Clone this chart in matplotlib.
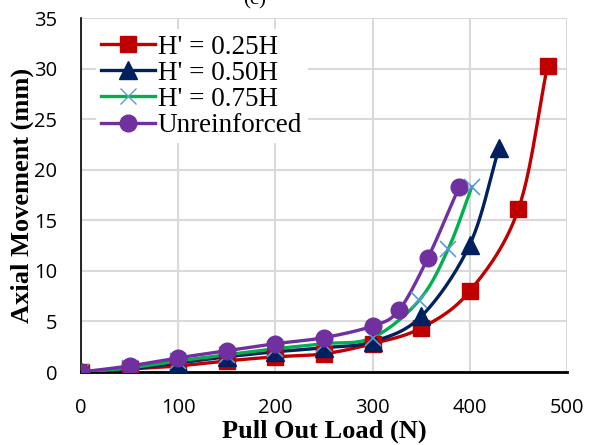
import numpy as np
import matplotlib.pyplot as plt

# data
load_25 = [0, 50, 100, 150, 200, 250, 300, 350, 400, 450, 480]
move_25 = [0, 0.3, 0.6, 1.1, 1.5, 1.8, 2.8, 4.35, 8.0, 16.1, 30.3]

load_50 = [0, 50, 100, 150, 200, 250, 300, 350, 400, 430]
move_50 = [0, 0.3, 0.9, 1.5, 2.0, 2.4, 3.0, 5.5, 12.6, 22.1]

load_75 = [0, 50, 100, 150, 200, 250, 300, 348, 378, 402]
move_75 = [0, 0.4, 1.1, 1.7, 2.3, 2.8, 3.4, 7.1, 12.2, 18.3]

load_un = [0, 50, 100, 150, 200, 250, 300, 327, 357, 389]
move_un = [0, 0.6, 1.4, 2.1, 2.8, 3.4, 4.55, 6.1, 11.3, 18.3]


def smooth(x, y, n=30):
    # catmull-rom, like excel's smoothed line
    x = np.asarray(x, float)
    y = np.asarray(y, float)
    px = np.concatenate([[2 * x[0] - x[1]], x, [2 * x[-1] - x[-2]]])
    py = np.concatenate([[2 * y[0] - y[1]], y, [2 * y[-1] - y[-2]]])
    xs, ys = [], []
    t = np.linspace(0, 1, n)
    for i in range(1, len(px) - 2):
        for p, out in ((px, xs), (py, ys)):
            p0, p1, p2, p3 = p[i - 1], p[i], p[i + 1], p[i + 2]
            out.extend(0.5 * (2 * p1 + (-p0 + p2) * t
                              + (2 * p0 - 5 * p1 + 4 * p2 - p3) * t ** 2
                              + (-p0 + 3 * p1 - 3 * p2 + p3) * t ** 3))
    return xs, ys


fig = plt.figure(figsize=(5.95, 4.45), dpi=100)
ax = fig.add_axes([81 / 595, 1 - 372 / 445, 486 / 595, 354 / 445])

series = [
    (load_25, move_25, "H' = 0.25H", '#C00000', 's', '#C00000', 12),
    (load_50, move_50, "H' = 0.50H", '#002060', '^', '#002060', 13),
    (load_75, move_75, "H' = 0.75H", '#00B050', 'x', '#5B9BD5', 12),
    (load_un, move_un, 'Unreinforced', '#7030A0', 'o', '#7030A0', 12),
]

for x, y, lab, col, mk, mcol, ms in series:
    sx, sy = smooth(x, y)
    ax.plot(sx, sy, color=col, lw=2.4, zorder=3)
    ax.plot(x, y, ls='none', marker=mk, color=mcol, ms=ms, mew=1.2 if mk == 'x' else 1,
            zorder=4)
    ax.plot([], [], color=col, lw=2.4, marker=mk, mfc=mcol, mec=mcol, ms=ms, label=lab)

ax.set_xlim(0, 500)
ax.set_ylim(0, 35)
ax.set_xticks(range(0, 501, 100))
ax.set_yticks(range(0, 36, 5))
ax.grid(True, color='#d9d9d9', lw=1.5)
ax.set_axisbelow(True)
for s in ['top', 'right']:
    ax.spines[s].set_visible(False)
ax.spines['left'].set_linewidth(1.2)
ax.spines['bottom'].set_linewidth(2)
ax.tick_params(length=0, labelsize=14.5)
ax.tick_params(axis='x', pad=19)
ax.tick_params(axis='y', pad=17)
for t in ax.get_xticklabels() + ax.get_yticklabels():
    t.set_fontfamily('Open Sans')

ax.set_xlabel('Pull Out Load (N)', fontfamily='Liberation Serif', fontweight='bold',
              fontsize=19, labelpad=1)
ax.set_ylabel('Axial Movement (mm)', fontfamily='Liberation Serif', fontweight='bold',
              fontsize=19, labelpad=0)

leg = ax.legend(loc='upper left', bbox_to_anchor=(0.03, 0.968), frameon=True,
                facecolor='white', edgecolor='none', framealpha=1, fancybox=False,
                prop={'family': 'Liberation Serif', 'size': 19.5}, handlelength=2.0,
                handletextpad=0.1, labelspacing=0.04, borderaxespad=0.0,
                borderpad=0.2)

fig.text(255 / 595, 1.0, '(c)', fontfamily='Liberation Serif', fontsize=15,
         ha='center', va='center')

fig.savefig('out.png', dpi=100)
